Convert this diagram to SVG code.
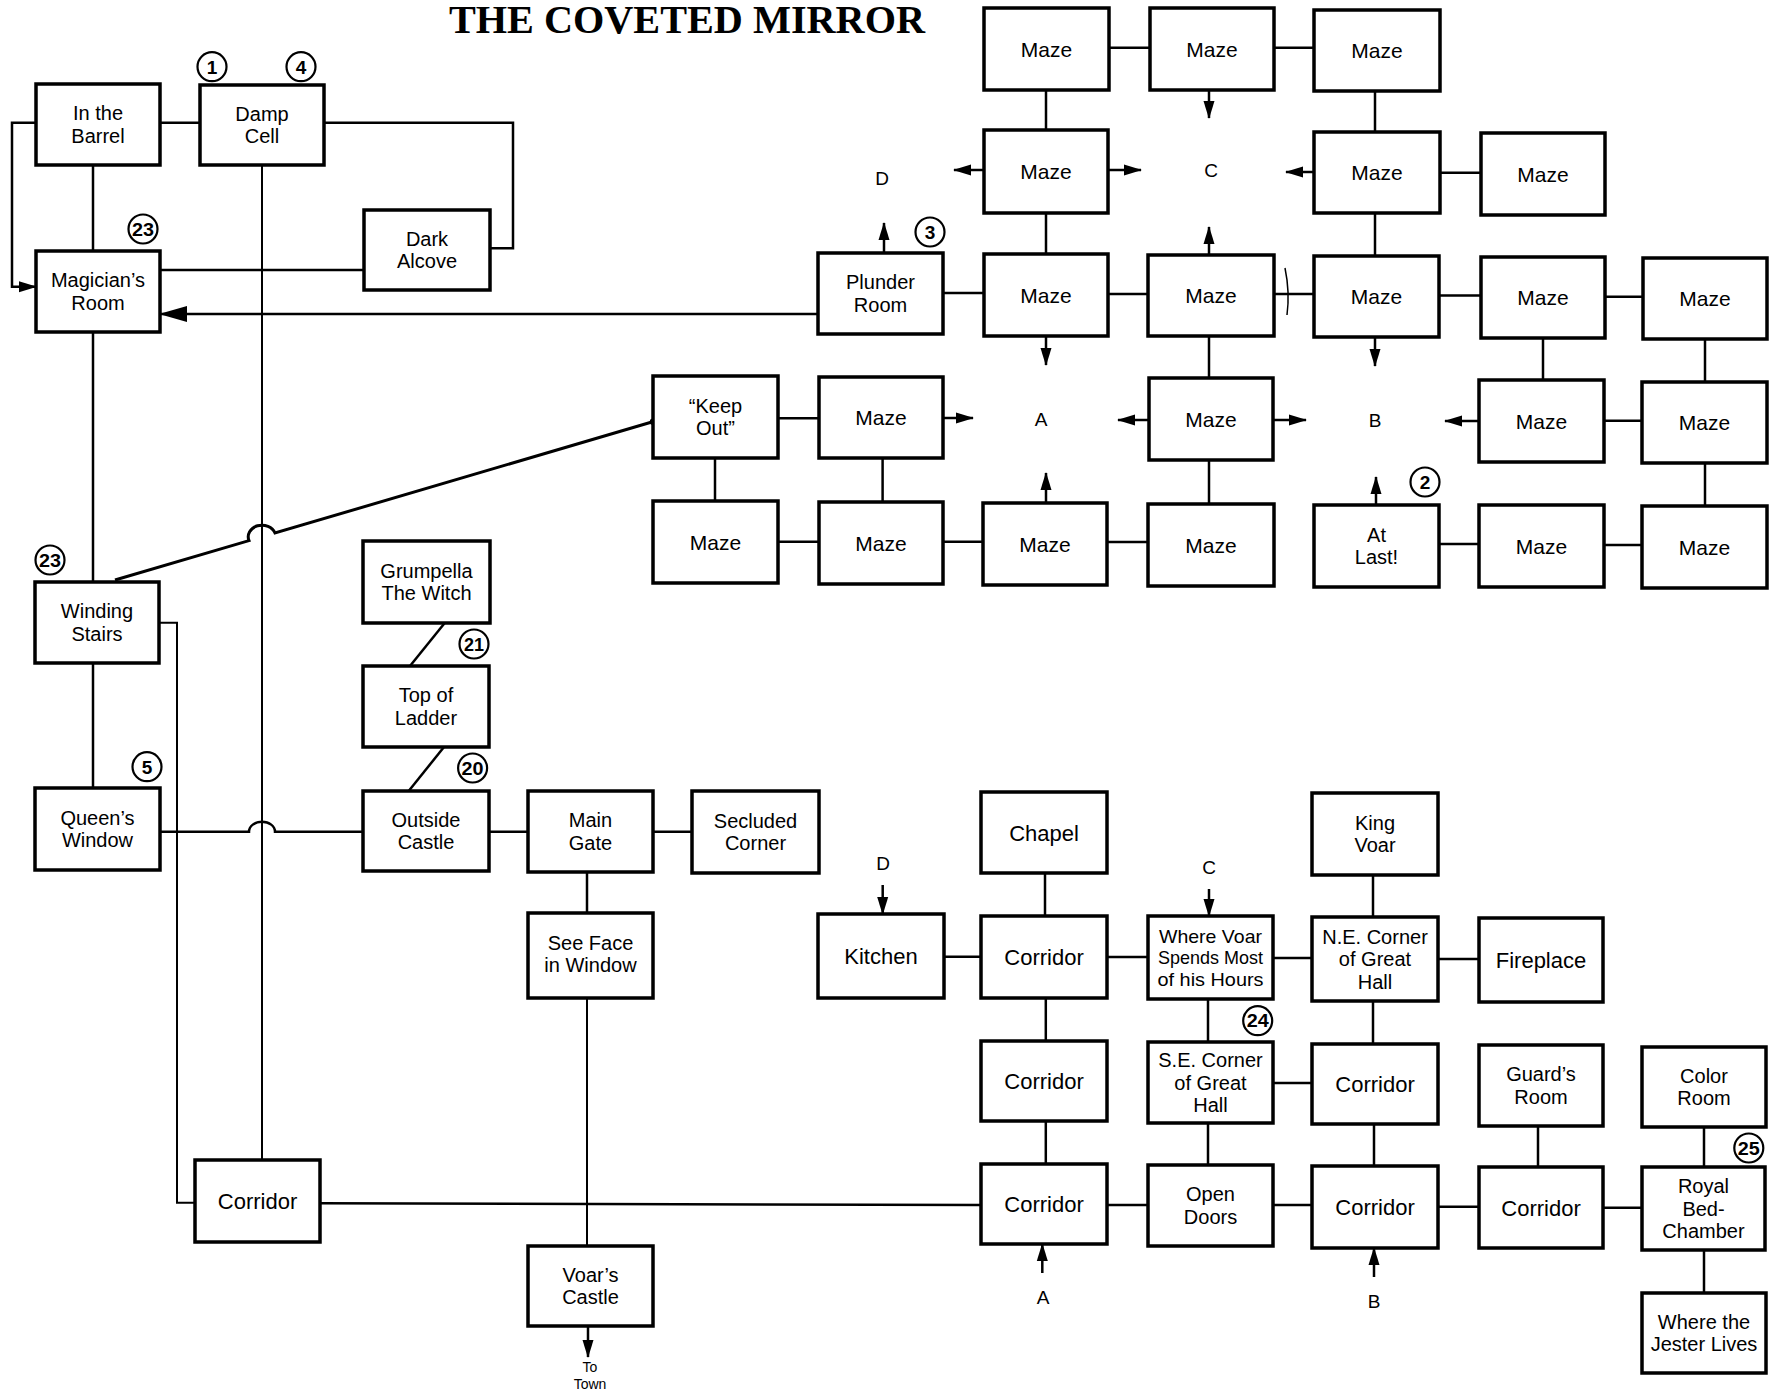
<svg xmlns="http://www.w3.org/2000/svg" width="1780" height="1394" viewBox="0 0 1780 1394">
<style>
.box{fill:#fff;stroke:#000;stroke-width:3.5}
.lbl{font-family:"Liberation Sans",Arial,sans-serif;font-size:22px;text-anchor:middle;fill:#000}
.ml{font-size:20px}
.mz{font-size:21px}
.ln{fill:none;stroke:#000;stroke-width:2.5}
.thin{stroke-width:2}
.bc{fill:#fff;stroke:#000;stroke-width:2.2}
.bn{font-family:"Liberation Sans",Arial,sans-serif;font-weight:bold;font-size:19px;text-anchor:middle;fill:#000}
.pt{font-family:"Liberation Sans",Arial,sans-serif;font-size:19px;text-anchor:middle;fill:#000}
.ar{marker-end:url(#ah)}
</style>
<defs>
<marker id="ah" markerUnits="userSpaceOnUse" markerWidth="18" markerHeight="12" viewBox="0 0 18 12" refX="17" refY="6" orient="auto"><path d="M0,0.5 L18,6 L0,11.5 z" fill="#000"/></marker>
<marker id="ahb" markerUnits="userSpaceOnUse" markerWidth="28" markerHeight="17" viewBox="0 0 28 17" refX="27" refY="8.5" orient="auto"><path d="M0,0.5 L28,8.5 L0,16.5 z" fill="#000"/></marker>
</defs>
<rect width="1780" height="1394" fill="#fff"/>
<text x="687" y="33" font-family="'Liberation Serif','Times New Roman',serif" font-weight="bold" font-size="40" text-anchor="middle" textLength="476" lengthAdjust="spacingAndGlyphs">THE COVETED MIRROR</text>

<g id="connectors">
<path class="ln" d="M160,122.7 H200"/>
<path class="ln" d="M93,165 V251"/>
<path class="ln" d="M324,122.7 H513 V248.3 H490"/>
<path class="ln" d="M160,270 H364"/>
<path class="ln ar" d="M36,122.7 H12 V286.7 H36"/>
<path class="ln thin" d="M262,165 V1160"/>
<path class="ln" style="marker-end:url(#ahb)" d="M818,314 H160"/>
<path class="ln" d="M93,332 V582"/>
<path class="ln" style="stroke-width:3" d="M115,580 L249,540.6 A13,11 0 0 1 275,533 L652.7,421.7"/>
<circle cx="653" cy="421.7" r="3.2" fill="#000"/>
<path class="ln thin" d="M159,622.7 H177 V1202.7 H195"/>
<path class="ln" d="M93,663 V788"/>
<path class="ln" d="M160,831.7 H249 A13,10 0 0 1 275,831.7 H363"/>
<path class="ln" d="M444.7,623 L410,666"/>
<path class="ln" d="M444,747 L408.7,791"/>
<path class="ln" d="M489,831.7 H528"/>
<path class="ln" d="M653,831.7 H692"/>
<path class="ln" d="M587,872 V913"/>
<path class="ln thin" d="M587,998 V1246"/>
<path class="ln ar" d="M588,1326 V1357"/>
<path class="ln" d="M320,1203.3 L981,1205"/>
<path class="ln" d="M943,293 H984"/>
<path class="ln ar" d="M884,253 V223"/>
<path class="ln" d="M1109,47.7 H1150"/>
<path class="ln" d="M1274,47.7 H1314"/>
<path class="ln" d="M1046,90 V130"/>
<path class="ln" d="M1375,91 V132"/>
<path class="ln ar" d="M1209,90 V118"/>
<path class="ln ar" d="M984,170 H954"/>
<path class="ln ar" d="M1108,170 H1141"/>
<path class="ln ar" d="M1314,172 H1286"/>
<path class="ln" d="M1440,172.7 H1481"/>
<path class="ln" d="M1046,213 V254"/>
<path class="ln" d="M1375,213 V256"/>
<path class="ln ar" d="M1209,255 V227"/>
<path class="ln" d="M1108,294 H1148"/>
<path class="ln" d="M1274,294 H1314"/>
<path fill="none" stroke="#000" stroke-width="1.5" d="M1285,268 Q1290,292 1287,315"/>
<path class="ln" d="M1439,295.5 H1481"/>
<path class="ln" d="M1605,296.7 H1643"/>
<path class="ln ar" d="M1046,336 V365"/>
<path class="ln ar" d="M1375,337 V366"/>
<path class="ln" d="M1209,336 V378"/>
<path class="ln" d="M1543,338 V380"/>
<path class="ln" d="M1705,339 V382"/>
<path class="ln" d="M778,418.3 H819"/>
<path class="ln ar" d="M943,418 H973"/>
<path class="ln ar" d="M1149,420 H1118"/>
<path class="ln ar" d="M1273,420 H1306"/>
<path class="ln ar" d="M1479,421 H1445"/>
<path class="ln" d="M1604,420.7 H1642"/>
<path class="ln" d="M715,458 V501"/>
<path class="ln" d="M882.6,458 V502"/>
<path class="ln" d="M1209,460 V504"/>
<path class="ln" d="M1705,463 V506"/>
<path class="ln ar" d="M1046,503 V473"/>
<path class="ln ar" d="M1376,505 V477"/>
<path class="ln" d="M778,541.7 H819"/>
<path class="ln" d="M943,541.7 H983"/>
<path class="ln" d="M1107,542 H1148"/>
<path class="ln" d="M1439,544 H1479"/>
<path class="ln" d="M1604,545 H1642"/>
<path class="ln ar" d="M882.7,885 V914"/>
<path class="ln ar" d="M1209,889 V916"/>
<path class="ln" d="M1045,873 V916"/>
<path class="ln" d="M944,956.7 H981"/>
<path class="ln" d="M1107,957 H1148"/>
<path class="ln" d="M1273,958 H1312"/>
<path class="ln" d="M1438,959 H1479"/>
<path class="ln" d="M1373,875 V917"/>
<path class="ln" d="M1045.8,998 V1041"/>
<path class="ln" d="M1208,999 V1042"/>
<path class="ln" d="M1373,1001 V1044"/>
<path class="ln" d="M1273,1083 H1312"/>
<path class="ln" d="M1045.8,1121 V1164"/>
<path class="ln" d="M1208,1123 V1165"/>
<path class="ln" d="M1374,1124 V1166"/>
<path class="ln" d="M1538,1126 V1167"/>
<path class="ln" d="M1704,1127 V1167"/>
<path class="ln" d="M1107,1205 H1148"/>
<path class="ln" d="M1273,1205 H1312"/>
<path class="ln" d="M1438,1206.7 H1479"/>
<path class="ln" d="M1603,1207.7 H1642"/>
<path class="ln" d="M1704,1250 V1293"/>
<path class="ln ar" d="M1042.3,1273 V1244"/>
<path class="ln ar" d="M1374,1277 V1248"/>
</g>

<g id="points">
<text class="pt" x="882" y="185">D</text>
<text class="pt" x="1211" y="177">C</text>
<text class="pt" x="1041" y="426">A</text>
<text class="pt" x="1375" y="427">B</text>
<text class="pt" x="883" y="870">D</text>
<text class="pt" x="1209" y="874">C</text>
<text class="pt" x="1043" y="1304">A</text>
<text class="pt" x="1374" y="1308">B</text>
<text class="pt" x="590" y="1372" style="font-size:14px">To</text>
<text class="pt" x="590" y="1388.5" style="font-size:14px">Town</text>
</g>

<g id="n-barrel"><rect class="box" x="36" y="84" width="124" height="81"/><text class="lbl ml" x="98" y="120.4">In the<tspan x="98" dy="22.5">Barrel</tspan></text></g>
<g id="n-damp"><rect class="box" x="200" y="85" width="124" height="80"/><text class="lbl ml" x="262" y="120.9">Damp<tspan x="262" dy="22.5">Cell</tspan></text></g>
<g id="n-magician"><rect class="box" x="36" y="251" width="124" height="81"/><text class="lbl ml" x="98" y="287.4">Magician’s<tspan x="98" dy="22.5">Room</tspan></text></g>
<g id="n-alcove"><rect class="box" x="364" y="210" width="126" height="80"/><text class="lbl ml" x="427" y="245.9">Dark<tspan x="427" dy="22.5">Alcove</tspan></text></g>
<g id="n-winding"><rect class="box" x="35" y="582" width="124" height="81"/><text class="lbl ml" x="97" y="618.4">Winding<tspan x="97" dy="22.5">Stairs</tspan></text></g>
<g id="n-queens"><rect class="box" x="35" y="788" width="125" height="82"/><text class="lbl ml" x="97.5" y="824.9">Queen’s<tspan x="97.5" dy="22.5">Window</tspan></text></g>
<g id="n-grumpella"><rect class="box" x="363" y="541" width="127" height="82"/><text class="lbl ml" x="426.5" y="577.9">Grumpella<tspan x="426.5" dy="22.5">The Witch</tspan></text></g>
<g id="n-ladder"><rect class="box" x="363" y="666" width="126" height="81"/><text class="lbl ml" x="426" y="702.4">Top of<tspan x="426" dy="22.5">Ladder</tspan></text></g>
<g id="n-outside"><rect class="box" x="363" y="791" width="126" height="80"/><text class="lbl ml" x="426" y="826.9">Outside<tspan x="426" dy="22.5">Castle</tspan></text></g>
<g id="n-maingate"><rect class="box" x="528" y="791" width="125" height="81"/><text class="lbl ml" x="590.5" y="827.4">Main<tspan x="590.5" dy="22.5">Gate</tspan></text></g>
<g id="n-secluded"><rect class="box" x="692" y="791" width="127" height="82"/><text class="lbl ml" x="755.5" y="827.9">Secluded<tspan x="755.5" dy="22.5">Corner</tspan></text></g>
<g id="n-seeface"><rect class="box" x="528" y="913" width="125" height="85"/><text class="lbl ml" x="590.5" y="949.5">See Face<tspan x="590.5" dy="22.5">in Window</tspan></text></g>
<g id="n-corridor0"><rect class="box" x="195" y="1160" width="125" height="82"/><text class="lbl" x="257.5" y="1209">Corridor</text></g>
<g id="n-voarscastle"><rect class="box" x="528" y="1246" width="125" height="80"/><text class="lbl ml" x="590.5" y="1281.9">Voar’s<tspan x="590.5" dy="22.5">Castle</tspan></text></g>

<g id="n-plunder"><rect class="box" x="818" y="253" width="125" height="81"/><text class="lbl ml" x="880.5" y="289.4">Plunder<tspan x="880.5" dy="22.5">Room</tspan></text></g>
<g id="n-keepout"><rect class="box" x="653" y="376" width="125" height="82"/><text class="lbl ml" x="715.5" y="412.9">“Keep<tspan x="715.5" dy="22.5">Out”</tspan></text></g>
<g id="n-atlast"><rect class="box" x="1314" y="505" width="125" height="82"/><text class="lbl ml" x="1376.5" y="541.9">At<tspan x="1376.5" dy="22.5">Last!</tspan></text></g>

<g id="n-m11"><rect class="box" x="984" y="8" width="125" height="82"/><text class="lbl mz" x="1046.5" y="56.5">Maze</text></g>
<g id="n-m12"><rect class="box" x="1150" y="8" width="124" height="82"/><text class="lbl mz" x="1212" y="56.5">Maze</text></g>
<g id="n-m13"><rect class="box" x="1314" y="10" width="126" height="81"/><text class="lbl mz" x="1377" y="58">Maze</text></g>
<g id="n-m21"><rect class="box" x="984" y="130" width="124" height="83"/><text class="lbl mz" x="1046" y="179">Maze</text></g>
<g id="n-m23"><rect class="box" x="1314" y="132" width="126" height="81"/><text class="lbl mz" x="1377" y="180">Maze</text></g>
<g id="n-m24"><rect class="box" x="1481" y="133" width="124" height="82"/><text class="lbl mz" x="1543" y="181.5">Maze</text></g>
<g id="n-m31"><rect class="box" x="984" y="254" width="124" height="82"/><text class="lbl mz" x="1046" y="302.5">Maze</text></g>
<g id="n-m32"><rect class="box" x="1148" y="255" width="126" height="81"/><text class="lbl mz" x="1211" y="303">Maze</text></g>
<g id="n-m33"><rect class="box" x="1314" y="256" width="125" height="81"/><text class="lbl mz" x="1376.5" y="304">Maze</text></g>
<g id="n-m34"><rect class="box" x="1481" y="257" width="124" height="81"/><text class="lbl mz" x="1543" y="305">Maze</text></g>
<g id="n-m35"><rect class="box" x="1643" y="258" width="124" height="81"/><text class="lbl mz" x="1705" y="306">Maze</text></g>
<g id="n-m41"><rect class="box" x="819" y="377" width="124" height="81"/><text class="lbl mz" x="881" y="425">Maze</text></g>
<g id="n-m43"><rect class="box" x="1149" y="378" width="124" height="82"/><text class="lbl mz" x="1211" y="426.5">Maze</text></g>
<g id="n-m44"><rect class="box" x="1479" y="380" width="125" height="82"/><text class="lbl mz" x="1541.5" y="428.5">Maze</text></g>
<g id="n-m45"><rect class="box" x="1642" y="382" width="125" height="81"/><text class="lbl mz" x="1704.5" y="430">Maze</text></g>
<g id="n-m50"><rect class="box" x="653" y="501" width="125" height="82"/><text class="lbl mz" x="715.5" y="549.5">Maze</text></g>
<g id="n-m51"><rect class="box" x="819" y="502" width="124" height="82"/><text class="lbl mz" x="881" y="550.5">Maze</text></g>
<g id="n-m52"><rect class="box" x="983" y="503" width="124" height="82"/><text class="lbl mz" x="1045" y="551.5">Maze</text></g>
<g id="n-m53"><rect class="box" x="1148" y="504" width="126" height="82"/><text class="lbl mz" x="1211" y="552.5">Maze</text></g>
<g id="n-m54"><rect class="box" x="1479" y="505" width="125" height="82"/><text class="lbl mz" x="1541.5" y="553.5">Maze</text></g>
<g id="n-m55"><rect class="box" x="1642" y="506" width="125" height="82"/><text class="lbl mz" x="1704.5" y="554.5">Maze</text></g>

<g id="n-chapel"><rect class="box" x="981" y="792" width="126" height="81"/><text class="lbl" x="1044" y="840.5">Chapel</text></g>
<g id="n-kingvoar"><rect class="box" x="1312" y="793" width="126" height="82"/><text class="lbl ml" x="1375" y="829.9">King<tspan x="1375" dy="22.5">Voar</tspan></text></g>
<g id="n-kitchen"><rect class="box" x="818" y="914" width="126" height="84"/><text class="lbl" x="881" y="964">Kitchen</text></g>
<g id="n-corr21"><rect class="box" x="981" y="916" width="126" height="82"/><text class="lbl" x="1044" y="965">Corridor</text></g>
<g id="n-wherevoar"><rect class="box" x="1148" y="916" width="125" height="83"/><text class="lbl" style="font-size:19px" x="1210.5" y="942.8"><tspan x="1210.5" textLength="103" lengthAdjust="spacingAndGlyphs">Where Voar</tspan><tspan x="1210.5" dy="21.5" textLength="105" lengthAdjust="spacingAndGlyphs">Spends Most</tspan><tspan x="1210.5" dy="21.5" textLength="106" lengthAdjust="spacingAndGlyphs">of his Hours</tspan></text></g>
<g id="n-necorner"><rect class="box" x="1312" y="917" width="126" height="84"/><text class="lbl ml" x="1375" y="943.6">N.E. Corner<tspan x="1375" dy="22.5">of Great</tspan><tspan x="1375" dy="22.5">Hall</tspan></text></g>
<g id="n-fireplace"><rect class="box" x="1479" y="918" width="124" height="84"/><text class="lbl" x="1541" y="968">Fireplace</text></g>
<g id="n-corr31"><rect class="box" x="981" y="1041" width="126" height="80"/><text class="lbl" x="1044" y="1089">Corridor</text></g>
<g id="n-secorner"><rect class="box" x="1148" y="1042" width="125" height="81"/><text class="lbl ml" x="1210.5" y="1067.2">S.E. Corner<tspan x="1210.5" dy="22.5">of Great</tspan><tspan x="1210.5" dy="22.5">Hall</tspan></text></g>
<g id="n-corr33"><rect class="box" x="1312" y="1044" width="126" height="80"/><text class="lbl" x="1375" y="1092">Corridor</text></g>
<g id="n-guards"><rect class="box" x="1479" y="1045" width="124" height="81"/><text class="lbl ml" x="1541" y="1081.4">Guard’s<tspan x="1541" dy="22.5">Room</tspan></text></g>
<g id="n-color"><rect class="box" x="1642" y="1047" width="124" height="80"/><text class="lbl ml" x="1704" y="1082.9">Color<tspan x="1704" dy="22.5">Room</tspan></text></g>
<g id="n-corr41"><rect class="box" x="981" y="1164" width="126" height="80"/><text class="lbl" x="1044" y="1212">Corridor</text></g>
<g id="n-opendoors"><rect class="box" x="1148" y="1165" width="125" height="81"/><text class="lbl ml" x="1210.5" y="1201.4">Open<tspan x="1210.5" dy="22.5">Doors</tspan></text></g>
<g id="n-corr43"><rect class="box" x="1312" y="1166" width="126" height="82"/><text class="lbl" x="1375" y="1215">Corridor</text></g>
<g id="n-corr44"><rect class="box" x="1479" y="1167" width="124" height="81"/><text class="lbl" x="1541" y="1215.5">Corridor</text></g>
<g id="n-royal"><rect class="box" x="1642" y="1167" width="123" height="83"/><text class="lbl ml" x="1703.5" y="1193.2">Royal<tspan x="1703.5" dy="22.5">Bed-</tspan><tspan x="1703.5" dy="22.5">Chamber</tspan></text></g>
<g id="n-jester"><rect class="box" x="1642" y="1293" width="124" height="80"/><text class="lbl ml" x="1704" y="1328.9">Where the<tspan x="1704" dy="22.5">Jester Lives</tspan></text></g>

<g id="badges">
<circle class="bc" cx="212" cy="66.7" r="14.5"/><text class="bn" x="212" y="73.5">1</text>
<circle class="bc" cx="301" cy="66.7" r="14.5"/><text class="bn" x="301" y="73.5">4</text>
<circle class="bc" cx="143" cy="229" r="14.5"/><text class="bn" x="143" y="235.5" textLength="22" lengthAdjust="spacingAndGlyphs">23</text>
<circle class="bc" cx="50" cy="560" r="14.5"/><text class="bn" x="50" y="566.5" textLength="22" lengthAdjust="spacingAndGlyphs">23</text>
<circle class="bc" cx="930" cy="232" r="14.5"/><text class="bn" x="930" y="238.8">3</text>
<circle class="bc" cx="1425" cy="482" r="14.5"/><text class="bn" x="1425" y="488.8">2</text>
<circle class="bc" cx="474" cy="644" r="14.5"/><text class="bn" x="474" y="650.5" textLength="20" lengthAdjust="spacingAndGlyphs">21</text>
<circle class="bc" cx="472.6" cy="768" r="14.5"/><text class="bn" x="472.6" y="774.5" textLength="22" lengthAdjust="spacingAndGlyphs">20</text>
<circle class="bc" cx="147" cy="766.7" r="14.5"/><text class="bn" x="147" y="773.5">5</text>
<circle class="bc" cx="1257.7" cy="1020.7" r="14.5"/><text class="bn" x="1257.7" y="1027.2" textLength="22" lengthAdjust="spacingAndGlyphs">24</text>
<circle class="bc" cx="1748.8" cy="1148" r="14.5"/><text class="bn" x="1748.8" y="1154.5" textLength="22" lengthAdjust="spacingAndGlyphs">25</text>
</g>
</svg>
